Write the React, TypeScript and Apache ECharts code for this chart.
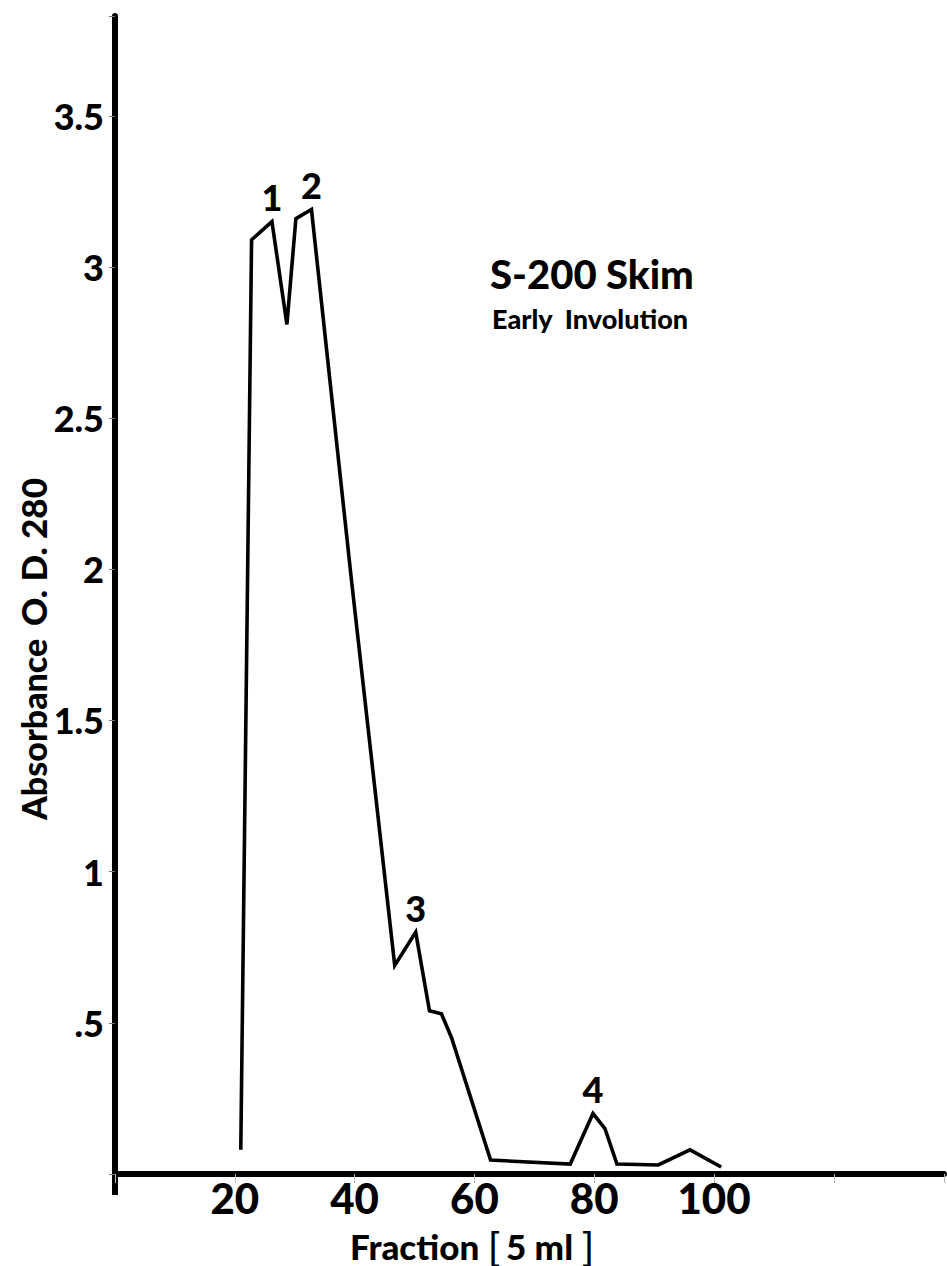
import React, { useEffect, useRef } from "react";
import * as echarts from "echarts";

// Fraction number (5 ml each) and absorbance at 280 nm, read from the elution profile
const fractions = [21.0, 22.8, 26.2, 28.7, 30.2, 32.8, 39.5, 46.7, 50.2, 52.5, 54.5, 56.2, 62.7, 76.0, 79.8, 81.8, 83.8, 90.7, 96.0, 101.2];
const absorbance = [0.08, 3.09, 3.15, 2.81, 3.16, 3.19, 1.96, 0.69, 0.8, 0.54, 0.53, 0.45, 0.046, 0.033, 0.2, 0.15, 0.033, 0.03, 0.08, 0.023];

// Peak markers: index into the arrays above, and their labels
const peakIndices = [2, 5, 8, 14];
const peakNames = ["1", "2", "3", "4"];

// Tick labels
const xTickValues = [20, 40, 60, 80, 100];
const yTickValues = [0.5, 1, 1.5, 2, 2.5, 3, 3.5];
const yTickLabels = [".5", "1", "1.5", "2", "2.5", "3", "3.5"];

const titleText = "S-200 Skim";
const subtitleText = "Early  Involution";
const xNameMain = "Fraction";
const xNameUnit = "5 ml";
const yNameMain = "Absorbance";
const yNameSub = "O. D. 280";

const HEAVY = "Lato, 'Noto Sans', sans-serif";

export default function App() {
  const ref = useRef<HTMLDivElement>(null);

  useEffect(() => {
    if (!ref.current) return;
    const chart = echarts.init(ref.current, null, { renderer: "svg" });
    const heavyText = (size: number) => ({
      fontSize: size,
      fontWeight: 900,
      fontFamily: HEAVY,
      fill: "#000",
    });
    const bracket = (ch: string, x: number) => ({
      type: "text",
      x,
      y: 1246,
      style: {
        text: ch,
        fontSize: 38,
        fontWeight: "normal",
        fontFamily: "'Liberation Sans', sans-serif",
        fill: "#000",
        align: "center",
        verticalAlign: "middle",
      },
    });
    const option: any = {
      animation: false,
      backgroundColor: "#ffffff",
      grid: { left: 115, right: 0, top: 16, bottom: 92, containLabel: false },
      xAxis: {
        type: "value",
        min: 0,
        max: 138.4,
        interval: 20,
        axisLine: { show: true, onZero: false, lineStyle: { color: "#000", width: 6 } },
        axisTick: { show: true, length: 9, lineStyle: { color: "#bbb", width: 1 } },
        splitLine: { show: false },
        axisLabel: {
          formatter: (v: number) => (xTickValues.indexOf(v) >= 0 ? String(v) : ""),
          fontSize: 42,
          fontWeight: 900,
          fontFamily: HEAVY,
          color: "#000",
          margin: 3,
        },
      },
      yAxis: {
        type: "value",
        min: 0,
        max: 3.83,
        interval: 0.5,
        axisLine: { show: true, onZero: false, lineStyle: { color: "#000", width: 6 } },
        axisTick: { show: true, length: 6, lineStyle: { color: "#777", width: 1 } },
        splitLine: { show: false },
        axisLabel: {
          formatter: (v: number) => {
            for (let i = 0; i < yTickValues.length; i++) {
              if (Math.abs(yTickValues[i] - v) < 1e-6) return yTickLabels[i];
            }
            return "";
          },
          fontSize: 36,
          fontWeight: 900,
          fontFamily: HEAVY,
          color: "#000",
          margin: 11,
        },
      },
      series: [
        {
          type: "line",
          data: fractions.map((f, i) => [f, absorbance[i]]),
          symbol: "none",
          lineStyle: { color: "#000", width: 3.6, join: "miter" },
          z: 3,
        },
        {
          type: "scatter",
          data: peakIndices.map((idx, k) => ({
            value: [fractions[idx], absorbance[idx]],
            name: peakNames[k],
          })),
          symbolSize: 1,
          itemStyle: { color: "#000", opacity: 1 },
          label: {
            show: true,
            position: "top",
            distance: 6,
            formatter: (p: any) => p.name,
            fontSize: 36,
            lineHeight: 36,
            fontWeight: 900,
            fontFamily: HEAVY,
            color: "#000",
            opacity: 1,
          },
          emphasis: { disabled: true },
          z: 4,
        },
      ],
      graphic: [
        {
          type: "rect",
          shape: { x: 112, y: 1172, width: 6, height: 23 },
          style: { fill: "#000" },
        },
        {
          type: "text",
          x: 490,
          y: 274,
          style: { text: titleText, ...heavyText(40), align: "left", verticalAlign: "middle" },
        },
        {
          type: "text",
          x: 492,
          y: 318,
          style: { text: subtitleText, ...heavyText(27), align: "left", verticalAlign: "middle" },
        },
        {
          type: "text",
          x: 350,
          y: 1246,
          style: { text: xNameMain, ...heavyText(35), align: "left", verticalAlign: "middle" },
        },
        bracket("[", 494),
        {
          type: "text",
          x: 506,
          y: 1246,
          style: { text: xNameUnit, ...heavyText(35), align: "left", verticalAlign: "middle" },
        },
        bracket("]", 588),
        {
          type: "text",
          x: 33,
          y: 820,
          rotation: Math.PI / 2,
          style: { text: yNameMain, ...heavyText(34), align: "left", verticalAlign: "middle" },
        },
        {
          type: "text",
          x: 33,
          y: 626,
          rotation: Math.PI / 2,
          style: { text: yNameSub, ...heavyText(35), align: "left", verticalAlign: "middle" },
        },
      ],
    };
    chart.setOption(option);
    return () => chart.dispose();
  }, []);

  return (
    <div
      ref={ref}
      style={{ position: "absolute", left: 0, top: 0, width: 947, height: 1266, background: "#fff" }}
    />
  );
}
